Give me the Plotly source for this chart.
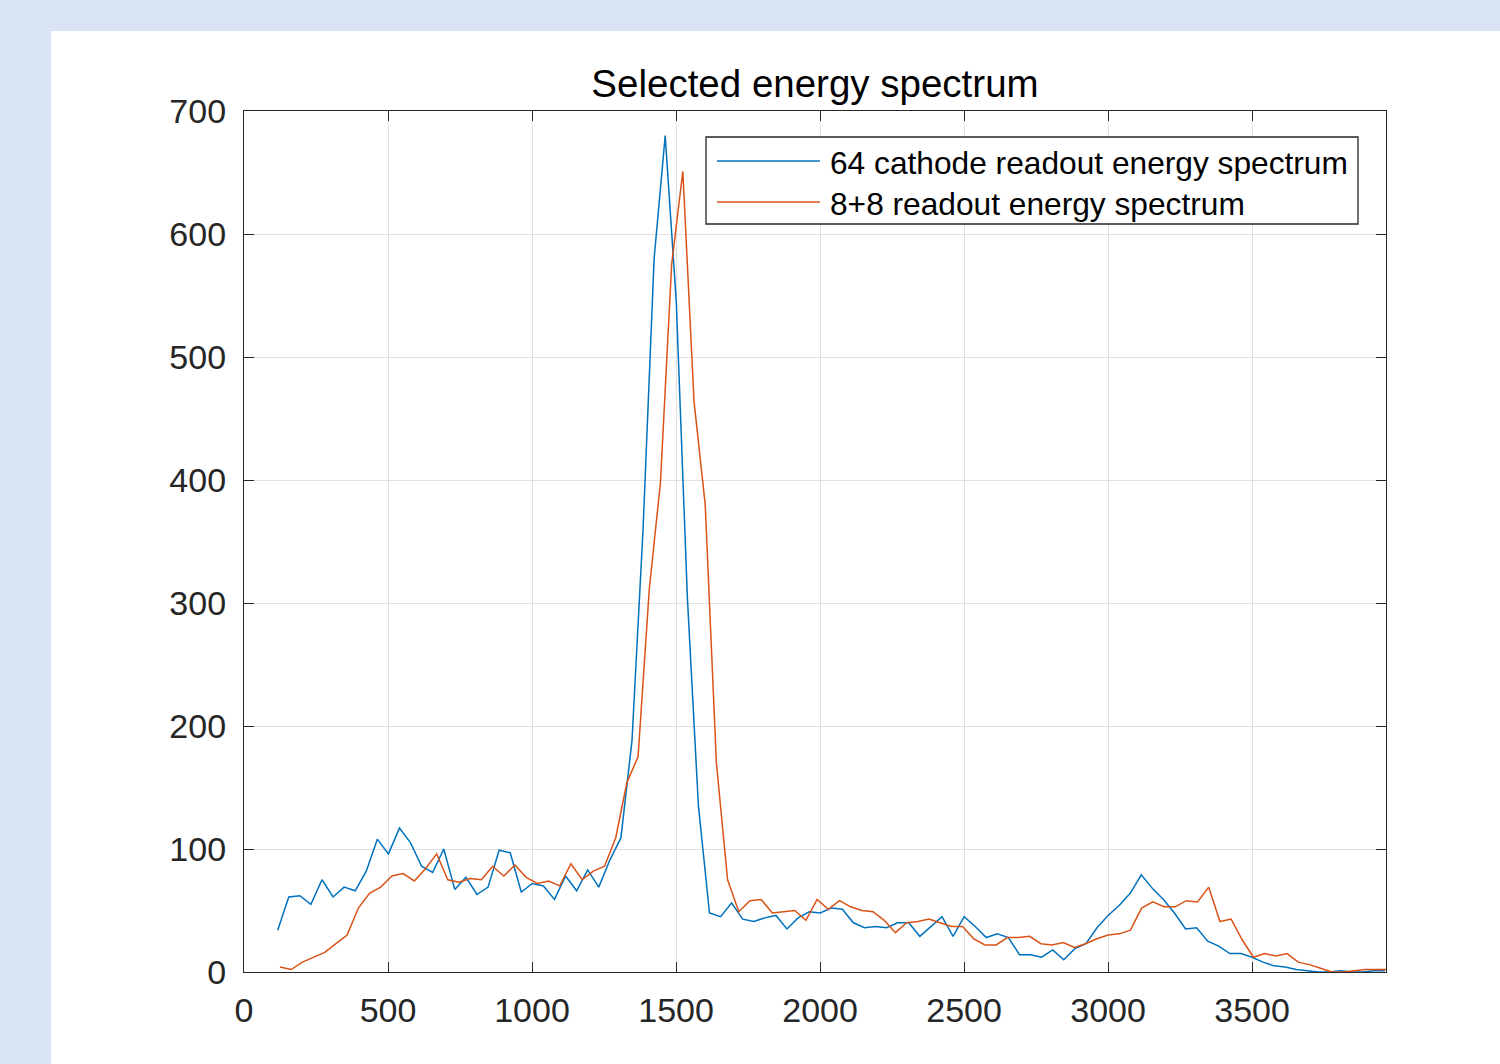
import numpy as np
import plotly.graph_objects as go

# ---------------- data ----------------
title_text = "Selected energy spectrum"
series_names = ["64 cathode readout energy spectrum", "8+8 readout energy spectrum"]

# histogram bin centres: first centre and bin width of each spectrum
cathode_bin_start, cathode_bin_width = 117.0, 38.44
readout_bin_start, readout_bin_width = 125.0, 38.85

cathode_counts = [34, 61, 62, 55, 75, 61, 69, 66, 82, 108,
                  96, 117, 105, 86, 81, 100, 67, 77, 63, 69,
                  99, 97, 65, 72, 70, 59, 78, 66, 83, 69,
                  91, 109, 188, 360, 580, 680, 545, 305, 135, 48,
                  45, 56, 43, 41, 44, 46, 35, 44, 49, 48,
                  52, 51, 40, 36, 37, 36, 40, 40, 29, 37,
                  45, 29, 45, 37, 28, 31, 28, 14, 14, 12,
                  18, 10, 19, 23, 36, 46, 54, 64, 79, 68,
                  59, 48, 35, 36, 25, 21, 15, 15, 12, 8,
                  5, 4, 2, 1, 0, 0, 1, 0, 0, 1, 1]

readout_counts = [4, 2, 8, 12, 16, 23, 30, 52, 64, 69,
                  78, 80, 74, 84, 96, 75, 73, 76, 75, 86,
                  78, 87, 77, 72, 74, 70, 88, 75, 82, 86,
                  109, 154, 175, 311, 398, 575, 651, 464, 380, 170,
                  75, 49, 58, 59, 48, 49, 50, 42, 59, 51,
                  58, 53, 50, 49, 42, 32, 40, 41, 43, 40,
                  37, 37, 27, 22, 22, 28, 28, 29, 23, 22,
                  24, 20, 23, 27, 30, 31, 34, 52, 57, 53,
                  53, 58, 57, 69, 41, 43, 26, 12, 15, 13,
                  15, 8, 6, 3, 0, 0, 1, 2, 2, 2]

x_ticks = [0, 500, 1000, 1500, 2000, 2500, 3000, 3500]
y_ticks = [0, 100, 200, 300, 400, 500, 600, 700]
x_range = [0, 3965]
y_range = [0, 700]

colors = ["#0072BD", "#D95319"]

cathode_x = cathode_bin_start + cathode_bin_width * np.arange(len(cathode_counts))
readout_x = readout_bin_start + readout_bin_width * np.arange(len(readout_counts))

# ---------------- figure ----------------
W, H = 1500, 1064
L, R, T, B = 244, 114, 111, 92
pw, ph = W - L - R, H - T - B


def px_x(p):
    return (p - L) / pw


def px_y(p):
    return (H - B - p) / ph


fig = go.Figure()
fig.add_trace(go.Scatter(x=cathode_x, y=cathode_counts, mode="lines", name=series_names[0],
                         line=dict(color=colors[0], width=1.5), showlegend=False))
fig.add_trace(go.Scatter(x=readout_x, y=readout_counts, mode="lines", name=series_names[1],
                         line=dict(color=colors[1], width=1.5), showlegend=False))

axis_color = "#262626"
font_family = "Liberation Sans, Arial, sans-serif"

common_axis = dict(
    showline=True, linecolor=axis_color, linewidth=1.3, mirror="allticks",
    ticks="inside", ticklen=10, tickwidth=1.2, tickcolor=axis_color,
    showgrid=True, gridcolor="#e1e1e1", gridwidth=1, zeroline=False,
    tickfont=dict(size=34, color=axis_color, family=font_family),
)

fig.update_xaxes(range=x_range, tickmode="array", tickvals=x_ticks,
                 ticktext=[str(v) for v in x_ticks], ticklabelstandoff=8, **common_axis)
fig.update_yaxes(range=y_range, tickmode="array", tickvals=y_ticks,
                 ticktext=[str(v) for v in y_ticks], ticklabelstandoff=10, **common_axis)

# white panel on light-blue page
shapes = [dict(type="rect", xref="paper", yref="paper", layer="below",
               x0=px_x(51), x1=px_x(1520), y0=px_y(1080), y1=px_y(31),
               fillcolor="white", line=dict(width=0))]

# legend box
shapes.append(dict(type="rect", xref="paper", yref="paper", layer="above",
                   x0=px_x(706), x1=px_x(1358), y0=px_y(224), y1=px_y(137),
                   fillcolor="white", line=dict(color=axis_color, width=1.3)))
legend_rows = [161, 202]
annotations = []
for name, col, yy in zip(series_names, colors, legend_rows):
    shapes.append(dict(type="line", xref="paper", yref="paper", layer="above",
                       x0=px_x(717), x1=px_x(820), y0=px_y(yy), y1=px_y(yy),
                       line=dict(color=col, width=1.5)))
    annotations.append(dict(xref="paper", yref="paper", x=px_x(828), y=px_y(yy + 2),
                            xanchor="left", yanchor="middle", showarrow=False,
                            text=name, font=dict(size=31.7, color="#000000", family=font_family)))

fig.update_layout(
    width=W, height=H,
    margin=dict(l=L, r=R, t=T, b=B, autoexpand=False),
    paper_bgcolor="#dae3f3", plot_bgcolor="rgba(0,0,0,0)",
    title=dict(text=title_text, x=0.5, xref="paper", xanchor="center",
               y=1 - 84 / H, yref="container", yanchor="middle",
               font=dict(size=38.5, color="#000000", family=font_family)),
    shapes=shapes, annotations=annotations,
    font=dict(family=font_family),
)

fig.write_html("out.html", config={"displayModeBar": False},
               post_script="document.body.style.margin='0px';"
                           "document.body.style.overflow='hidden';")
